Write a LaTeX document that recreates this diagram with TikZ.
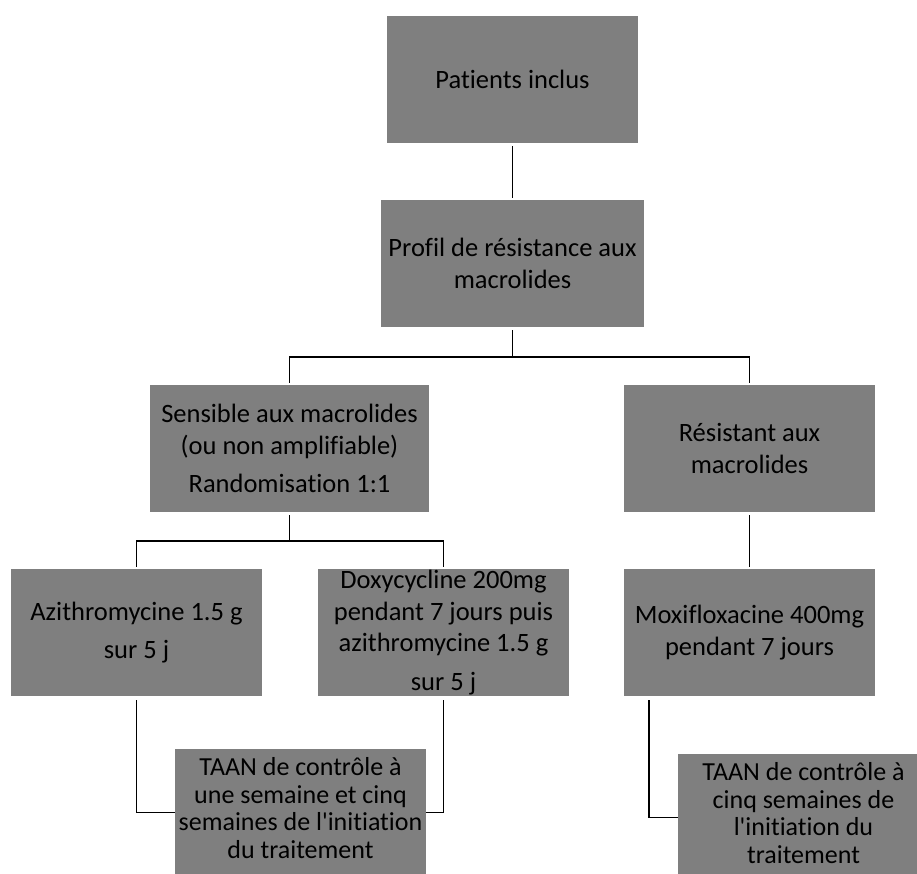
\documentclass[tikz,border=0pt]{standalone}
\usepackage{fontspec}
\newfontfamily\bodyfont{Carlito}[Ligatures={NoCommon}]
\definecolor{boxgray}{HTML}{7F7F7F}
\begin{document}
\begin{tikzpicture}[x=1pt,y=-1pt,
  box/.style={fill=boxgray, draw=none, inner sep=0pt, align=center,
    minimum height=127pt, minimum width=251pt,
    font=\bodyfont\fontsize{26.5}{31.5}\selectfont},
  tbox/.style={box, font=\bodyfont\fontsize{26}{27.5}\selectfont},
  conn/.style={draw=black, line width=1.9pt}]
\useasboundingbox (0,0) rectangle (917,873);
\clip (0,0) rectangle (917,873);

\node[box] (pat) at (512.5,79.5) {Patients inclus};
\node[box, minimum width=263pt] (prof) at (512.5,263.5) {Profil de résistance aux\\macrolides};
\node[box, minimum width=279pt] (sens) at (289.5,448.5) {Sensible aux macrolides\\(ou non amplifiable)\\[7pt]Randomisation 1:1};
\node[box] (res) at (749.5,448.5) {Résistant aux\\macrolides};
\node[box] (azi) at (136.5,632.5) {Azithromycine 1.5 g\\[7pt]sur 5 j};
\node[box] (doxy) at (443.5,632.5) {Doxycycline 200mg\\pendant 7 jours puis\\azithromycine 1.5 g\\[7pt]sur 5 j};
\node[box] (moxi) at (749.5,632.5) {Moxifloxacine 400mg\\pendant 7 jours};
\node[tbox] (taana) at (300.5,812.5) {TAAN de contrôle à\\une semaine et cinq\\semaines de l'initiation\\du traitement\\[-18pt]};
\node[tbox] (taanb) at (803.5,817.5) {TAAN de contrôle à\\cinq semaines de\\l'initiation du\\traitement\\[-18pt]};

\coordinate (j1) at (512.5,357);
\coordinate (j2) at (289.5,541);

\draw[conn] ([yshift=-3pt]pat.south) -- ([yshift=2pt]prof.north);
\draw[conn] ([yshift=-3pt]prof.south) -- (j1);
\draw[conn] ([yshift=2pt]sens.north) |- (j1) -| ([yshift=2pt]res.north);
\draw[conn] ([yshift=-3pt]sens.south) -- (j2);
\draw[conn] ([yshift=2pt]azi.north) |- (j2) -| ([yshift=2pt]doxy.north);
\draw[conn] ([yshift=-3pt]res.south) -- ([yshift=2pt]moxi.north);
\draw[conn] ([yshift=-4pt]azi.south) |- (taana.west);
\draw[conn] ([yshift=-4pt]doxy.south) |- (taana.east);
\draw[conn] ([xshift=25pt,yshift=-4pt]moxi.south west) |- (taanb.west);
\end{tikzpicture}
\end{document}
